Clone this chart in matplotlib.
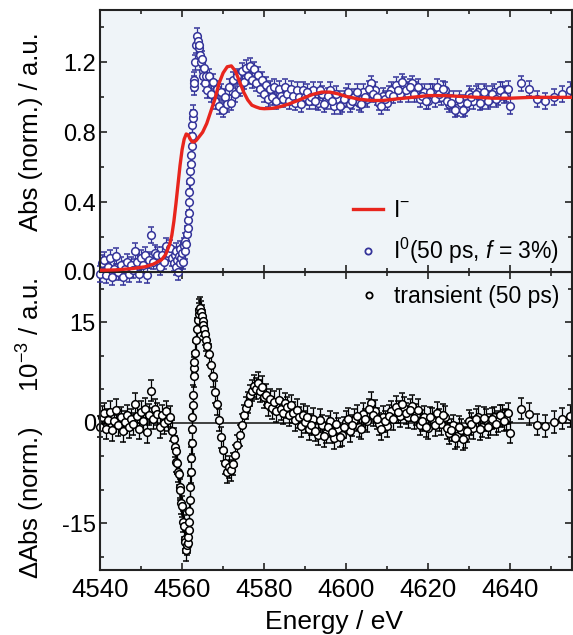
import matplotlib.pyplot as plt
from matplotlib.ticker import MultipleLocator
from matplotlib.lines import Line2D

plt.rcParams['font.family'] = ['Liberation Sans', 'DejaVu Sans']
plt.rcParams['mathtext.fontset'] = 'custom'
plt.rcParams['mathtext.rm'] = 'Liberation Sans'
plt.rcParams['mathtext.it'] = 'Liberation Sans:italic'
plt.rcParams['mathtext.default'] = 'regular'
plt.rcParams['axes.unicode_minus'] = False

# --- ground state I- spectrum (red line) ---
ref_energy = [4540, 4544, 4548, 4551, 4553, 4555, 4556, 4557, 4557.5, 4558,
              4558.5, 4559, 4559.5, 4560, 4560.5, 4561, 4561.5, 4562, 4562.5, 4563,
              4563.5, 4564, 4565, 4566, 4567, 4568, 4569, 4570, 4571, 4572,
              4573, 4574, 4575, 4576, 4577, 4578, 4579, 4580, 4582, 4584,
              4586, 4588, 4590, 4592, 4594, 4596, 4598, 4600, 4603, 4606,
              4609, 4612, 4616, 4620, 4624, 4628, 4632, 4636, 4640, 4645,
              4650, 4655]
ref_abs = [0.01, 0.012, 0.02, 0.03, 0.045, 0.07, 0.1, 0.16, 0.21, 0.29,
           0.39, 0.5, 0.61, 0.7, 0.76, 0.79, 0.785, 0.76, 0.745, 0.745,
           0.755, 0.77, 0.8, 0.85, 0.92, 0.99, 1.08, 1.14, 1.175, 1.18,
           1.15, 1.09, 1.03, 0.985, 0.955, 0.945, 0.937, 0.935, 0.937, 0.947,
           0.962, 0.98, 1.0, 1.018, 1.03, 1.03, 1.02, 1.005, 0.99, 0.982,
           0.982, 0.99, 1.0, 1.01, 1.01, 1.005, 1.0, 0.995, 0.995, 1.0,
           1.0, 1.0]

# --- measured points (shared energy grid; last block = intermediate scan points) ---
energy = [4540.0, 4540.5, 4541.0, 4541.5, 4542.0, 4542.5, 4543.0, 4543.5, 4544.0, 4544.5,
          4545.0, 4545.5, 4546.0, 4546.5, 4547.0, 4547.5, 4548.0, 4548.5, 4549.0, 4549.5,
          4550.0, 4550.5, 4551.0, 4551.5, 4552.0, 4552.5, 4553.0, 4553.5, 4554.0, 4554.5,
          4555.0, 4555.5, 4556.0, 4556.5, 4557.0, 4557.5,
          4558.0, 4558.2, 4558.4, 4558.6, 4558.8, 4559.0, 4559.2, 4559.4, 4559.6, 4559.8,
          4560.0, 4560.2, 4560.4, 4560.6, 4560.8, 4561.0, 4561.2, 4561.4,
          4561.5, 4561.6, 4561.7, 4561.8, 4561.9, 4562.0, 4562.1, 4562.2, 4562.3, 4562.4,
          4562.5, 4562.6, 4562.7, 4562.8, 4562.9, 4563.0,
          4563.2, 4563.4, 4563.6, 4563.8, 4564.0, 4564.2, 4564.4, 4564.6, 4564.8, 4565.0,
          4565.2, 4565.4, 4565.6, 4565.8, 4566.0,
          4566.5, 4567.0, 4567.5, 4568.0, 4568.5, 4569.0, 4569.5, 4570.0, 4570.5, 4571.0,
          4571.5, 4572.0, 4572.5, 4573.0, 4573.5, 4574.0, 4574.5, 4575.0, 4575.5, 4576.0,
          4576.5, 4577.0, 4577.5, 4578.0, 4578.5, 4579.0, 4579.5, 4580.0, 4580.5, 4581.0,
          4581.5, 4582.0, 4582.5, 4583.0, 4583.5, 4584.0, 4584.5, 4585.0, 4585.5, 4586.0,
          4586.5, 4587.0, 4587.5, 4588.0, 4588.5, 4589.0, 4589.5, 4590.0,
          4591, 4592, 4593, 4594, 4595, 4596, 4597, 4598, 4599, 4600,
          4601, 4602, 4603, 4604, 4605, 4606, 4607, 4608, 4609, 4610,
          4611, 4612, 4613, 4614, 4615, 4616, 4617, 4618, 4619, 4620,
          4621, 4622, 4623, 4624, 4625, 4626, 4627, 4628, 4629, 4630,
          4631, 4632, 4633, 4634, 4635, 4636, 4637, 4638, 4639, 4640,
          4642.5, 4644.5, 4646.5, 4648.5, 4650.5, 4652.5, 4654.5,
          4590.5, 4591.5, 4592.5, 4593.5, 4594.5, 4595.5, 4596.5, 4597.5, 4598.5, 4599.5,
          4600.5, 4601.5, 4602.5, 4603.5, 4604.5, 4605.5, 4606.5, 4607.5, 4608.5, 4609.5,
          4610.5, 4611.5, 4612.5, 4613.5, 4614.5, 4615.5, 4616.5, 4617.5, 4618.5, 4619.5,
          4620.5, 4621.5, 4622.5, 4623.5, 4624.5, 4625.5, 4626.5, 4627.5, 4628.5, 4629.5,
          4630.5, 4631.5, 4632.5, 4633.5, 4634.5, 4635.5, 4636.5, 4637.5, 4638.5, 4639.5]

# I0 (50 ps, f = 3%), normalised absorption
excited_abs = [-0.01, 0.05, 0.07, -0.02, 0.03, 0.08, -0.03, 0.02, 0.09, 0.0,
               0.04, -0.03, 0.02, 0.06, -0.01, 0.04, 0.01, 0.12, 0.06, -0.01,
               0.08, 0.04, 0.1, -0.02, 0.07, 0.21, 0.06, 0.11, 0.1, 0.03,
               0.1, 0.06, 0.15, 0.11, 0.14, 0.08,
               0.05, 0.1, 0.03, 0.12, 0.07, 0.0, 0.09, 0.05, 0.13, 0.08,
               0.11, 0.06, 0.15, 0.12, 0.18, 0.16, 0.22, 0.25,
               0.3, 0.34, 0.4, 0.46, 0.52, 0.58, 0.62, 0.67, 0.72, 0.78,
               0.84, 0.88, 0.91, 1.06, 1.1, 1.08,
               1.2, 1.3, 1.35, 1.32, 1.28, 1.3, 1.24, 1.2, 1.22, 1.15,
               1.12, 1.17, 1.08, 1.12, 1.04,
               1.12, 1.02, 1.09, 0.98, 1.05, 0.95, 1.03, 0.93, 1.0, 0.96,
               1.06, 0.97, 1.1, 1.02, 1.12, 1.05, 1.15, 1.09, 1.17, 1.12,
               1.18, 1.1, 1.16, 1.08, 1.13, 1.05, 1.1, 1.02, 1.07, 0.99,
               1.05, 1.0, 1.06, 0.98, 1.05, 1.01, 0.99, 1.06, 1.02, 0.98,
               1.05, 1.01, 0.97, 1.04, 1.0, 0.96, 1.04, 1.0,
               0.98, 1.04, 0.97, 1.02, 0.98, 1.04, 0.95, 0.99, 0.96, 1.01,
               0.96, 1.0, 0.97, 1.03, 0.99, 1.08, 1.04, 0.97, 1.01, 0.97,
               1.04, 1.07, 1.02, 1.07, 1.02, 1.08, 1.04, 0.99, 1.03, 0.98,
               1.03, 1.06, 1.0, 1.04, 0.96, 0.99, 0.94, 0.97, 0.94, 1.02,
               0.98, 1.03, 0.98, 1.02, 0.99, 1.03, 1.0, 1.04, 1.02, 0.95,
               1.08, 1.05, 0.99, 0.98, 1.0, 1.02, 1.04,
               1.03, 1.0, 0.98, 1.04, 0.96, 1.01, 0.98, 1.02, 0.95, 0.99,
               1.03, 0.98, 1.03, 0.96, 1.0, 1.05, 1.02, 1.0, 0.95, 0.99,
               1.02, 1.01, 1.04, 1.09, 1.04, 1.06, 1.02, 1.06, 1.01, 0.98,
               1.03, 0.99, 1.02, 1.05, 0.98, 0.97, 0.93, 0.99, 0.93, 0.97,
               1.0, 1.02, 0.97, 1.03, 0.98, 1.02, 0.99, 1.04, 1.01, 1.05]
excited_err = 0.045

# transient (50 ps), Delta Abs in units of 1e-3
transient = [-0.6, 0.9, 1.4, -0.9, 0.4, 1.6, -1.1, 0.2, 1.9, -0.4,
             0.8, -1.3, 0.1, 1.1, -0.7, 0.5, -0.2, 2.8, 1.0, -0.9,
             1.6, 0.3, 2.1, -1.4, 1.2, 4.8, 0.6, 2.0, 1.3, -0.7,
             1.1, -0.1, 1.7, 0.4, 0.9, -1.2,
             -2.4, -3.6, -4.2, -5.8, -6.0, -7.3, -7.7, -9.6, -10.0, -12.0,
             -12.5, -14.8, -15.4, -17.3, -17.8, -19.0, -18.2, -17.9,
             -17.0, -16.1, -14.8, -13.2, -11.5, -9.6, -7.4, -5.3, -3.1, -1.0,
             0.8, 2.6, 4.1, 6.9, 8.2, 9.0,
             10.4, 12.3, 14.0, 15.4, 16.3, 16.9, 17.1, 16.6, 15.9, 15.2,
             14.6, 14.0, 13.2, 12.3, 11.5,
             10.2, 8.6, 6.9, 4.6, 2.8, 0.4, -2.2, -4.1, -6.0, -7.4,
             -6.6, -7.1, -6.2, -4.9, -3.4, -1.9, -0.3, 1.1, 2.2, 3.0,
             4.1, 4.8, 5.5, 5.1, 5.9, 4.7, 5.3, 3.8, 4.2, 2.6,
             3.5, 2.2, 3.1, 1.7, 3.4, 2.0, 1.4, 2.9, 2.3, 1.1,
             2.6, 1.5, 0.4, 1.9, 0.8, -0.5, 1.2, 0.1,
             -1.0, 0.6, -1.8, -0.4, -1.5, 0.2, -2.3, -0.9, -1.9, 0.1,
             -1.3, 0.4, -0.6, 1.3, 0.2, 3.0, 1.8, -0.2, 0.9, -0.5,
             1.7, 2.4, 1.0, 2.2, 0.8, 2.5, 1.2, -0.3, 0.9, -0.8,
             0.6, 1.5, -0.2, 0.9, -1.6, -0.4, -2.0, -1.1, -2.2, 0.3,
             -0.8, 0.9, -0.6, 0.4, -0.3, 0.8, 0.2, 1.0, 0.5, -1.5,
             2.1, 1.3, -0.3, -0.5, 0.1, 0.6, 1.0,
             0.9, -0.3, -1.2, 0.4, -2.0, -0.6, -1.4, -0.2, -2.1, -0.7,
             0.6, -0.4, 1.0, -0.9, 0.5, 2.0, 1.1, 0.6, -1.0, 0.2,
             1.0, 0.5, 1.6, 2.8, 1.4, 1.9, 0.7, 1.9, 0.3, -0.6,
             0.8, -0.4, 0.4, 1.2, -0.8, -1.1, -2.3, -0.6, -2.5, -1.3,
             -0.2, 0.5, -1.0, 0.7, -0.7, 0.6, -0.2, 1.1, 0.3, 1.4]
transient_err = 1.6

blue = '#34349a'
red = '#e8251d'
panel_bg = '#eff4f8'
spine_col = '#222222'

fig = plt.figure(figsize=(5.73, 6.35), dpi=100)
ax2 = fig.add_axes([100/573, 1 - 570/635, 472/573, 298/635])
ax1 = fig.add_axes([100/573, 1 - 272/635, 472/573, 262/635], sharex=ax2)

# top panel
eb = ax1.errorbar(energy, excited_abs, yerr=excited_err, fmt='o', ms=5.5, mfc='white',
                  mec=blue, mew=1.1, ecolor=blue, elinewidth=0.9, capsize=2.5,
                  capthick=0.9, zorder=2)
for art in [eb[0], *eb[1], *eb[2]]:
    art.set_clip_on(False)
ax1.plot(ref_energy, ref_abs, color=red, lw=2.4, zorder=3)
ax1.set_ylim(0, 1.5)
ax1.yaxis.set_major_locator(MultipleLocator(0.4))
ax1.yaxis.set_minor_locator(MultipleLocator(0.2))
ax1.yaxis.set_major_formatter(plt.FormatStrFormatter('%.1f'))

# bottom panel
ax2.axhline(0, color=spine_col, lw=1.2, zorder=1.5)
eb2 = ax2.errorbar(energy, transient, yerr=transient_err, fmt='o', ms=5.5, mfc='white',
                   mec='black', mew=1.1, ecolor='black', elinewidth=0.9, capsize=2.5,
                   capthick=0.9, zorder=2)
for art in [eb2[0], *eb2[1], *eb2[2]]:
    art.set_clip_on(False)
ax2.set_ylim(-22, 22.5)
ax2.yaxis.set_major_locator(MultipleLocator(15))
ax2.yaxis.set_minor_locator(MultipleLocator(5))
ax2.set_xlim(4540, 4655)
ax2.xaxis.set_major_locator(MultipleLocator(20))
ax2.xaxis.set_minor_locator(MultipleLocator(10))

for ax in (ax1, ax2):
    ax.set_facecolor(panel_bg)
    ax.tick_params(which='both', direction='in', top=True, right=True, width=1.2,
                   labelsize=17, pad=3, color=spine_col)
    ax.tick_params(which='major', length=5)
    ax.tick_params(which='minor', length=3)
    for s in ax.spines.values():
        s.set_linewidth(1.5)
        s.set_color(spine_col)
ax1.tick_params(labelbottom=False)
ax2.tick_params(axis='x', pad=6, labelsize=18.5)

# legends
h_ref = Line2D([], [], color=red, lw=2.4)
h_exc = Line2D([], [], ls='none', marker='o', ms=4.5, mfc='white', mec=blue, mew=1.3)
h_tr = Line2D([], [], ls='none', marker='o', ms=4.5, mfc='white', mec='black', mew=1.3)
ax1.legend([h_ref, h_exc], ['I$^{-}$', r'I$^{0}$(50 ps, $\mathit{f}$ = 3%)'],
           loc='lower right', bbox_to_anchor=(1.0, -0.025), frameon=False, fontsize=16.5,
           handlelength=1.3, handletextpad=0.45, labelspacing=0.6, borderaxespad=0.15)
ax2.legend([h_tr], ['transient (50 ps)'], loc='upper right', bbox_to_anchor=(1.0, 1.0),
           frameon=False, fontsize=16.5, handlelength=1.3, handletextpad=0.45,
           borderaxespad=0.15)

# axis labels
fig.text(31/573, 1 - 132/635, 'Abs (norm.) / a.u.', rotation=90, ha='center',
         va='center', fontsize=18.5)
fig.text(31/573, 1 - 428/635, r'$\Delta$Abs (norm.)     10$^{-3}$ / a.u.', rotation=90,
         ha='center', va='center', fontsize=18.5)
fig.text(334/573, 1 - 622/635, 'Energy / eV', ha='center', va='center', fontsize=19)

fig.savefig('out.png', dpi=100)
